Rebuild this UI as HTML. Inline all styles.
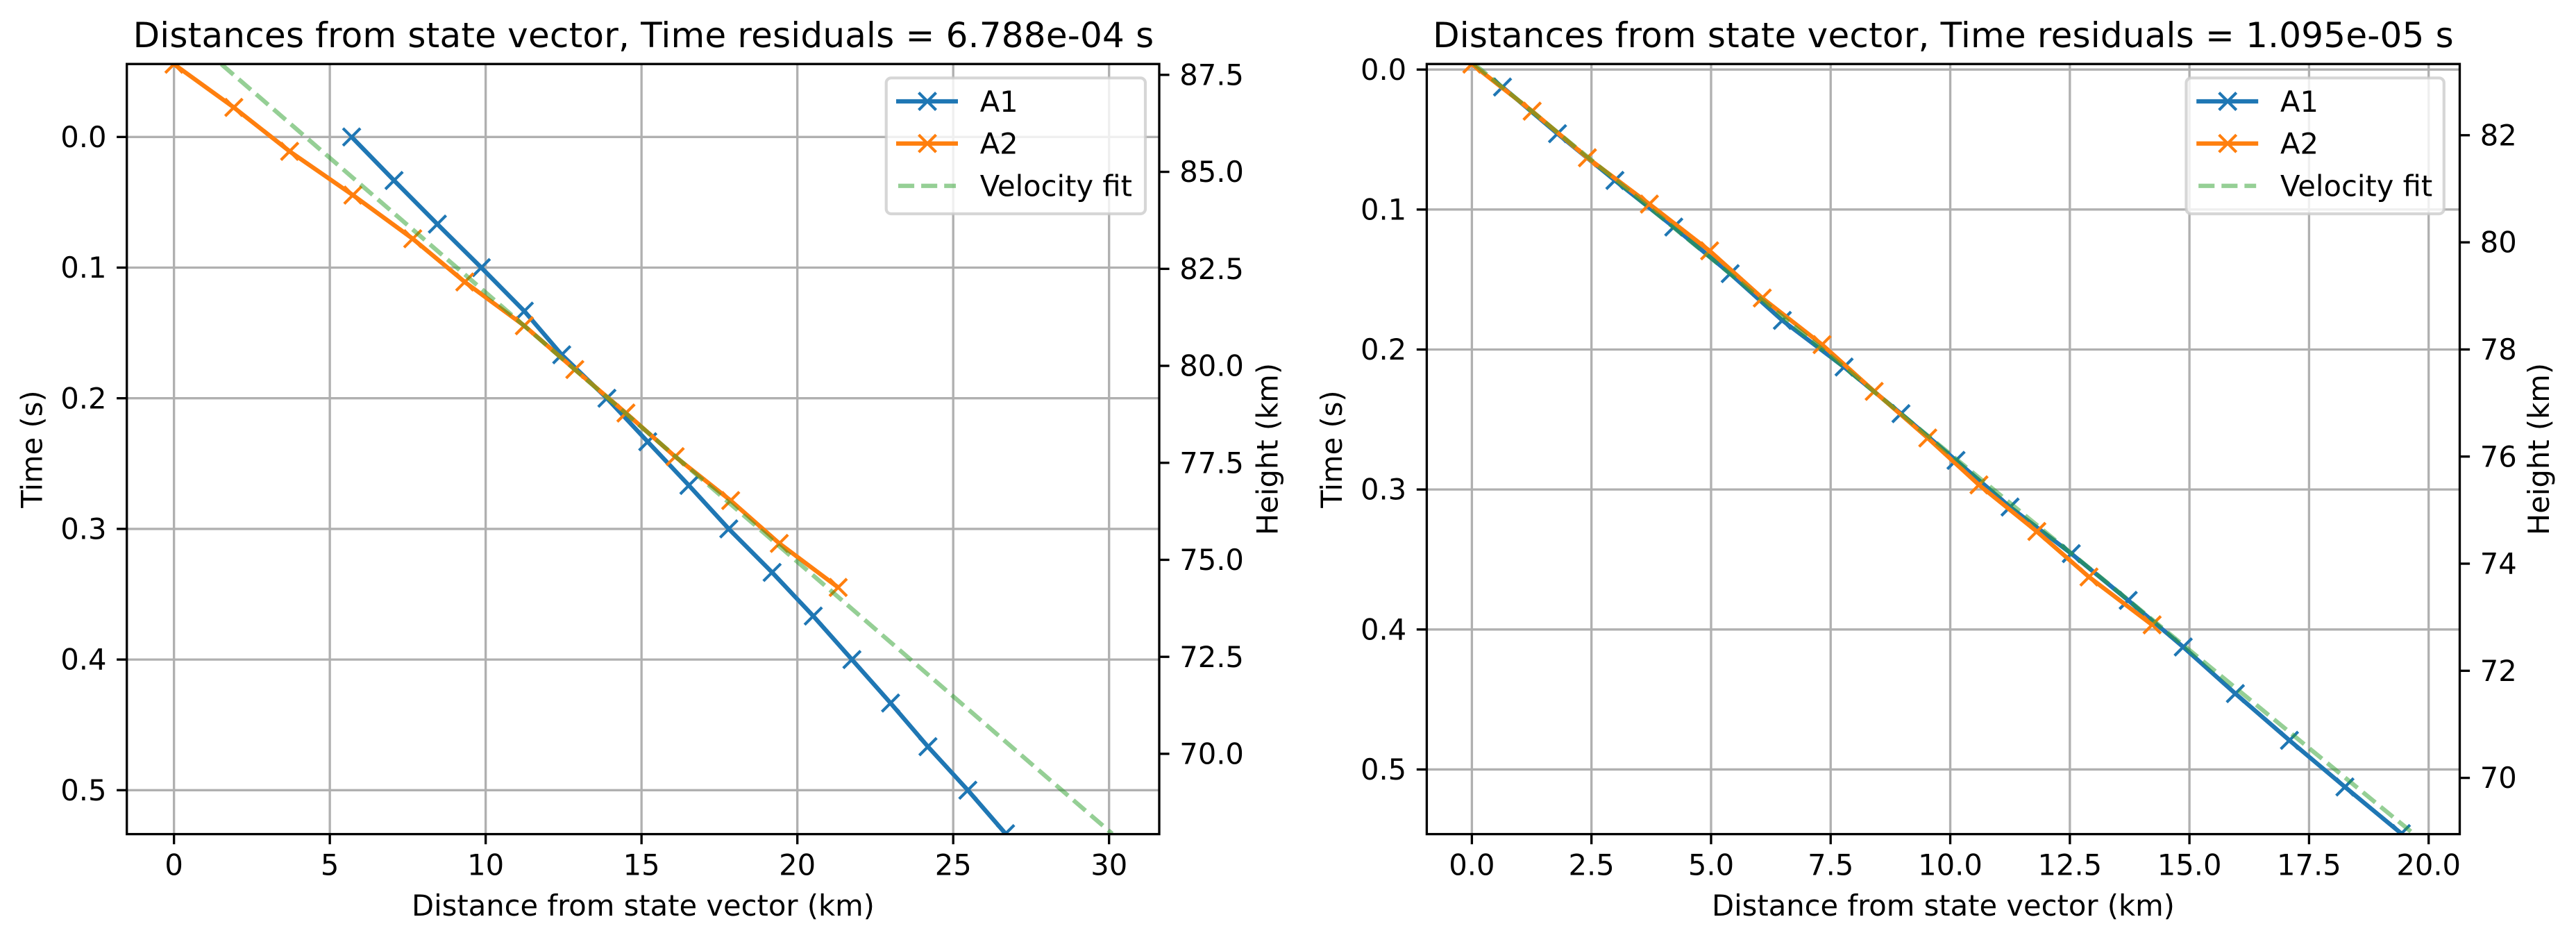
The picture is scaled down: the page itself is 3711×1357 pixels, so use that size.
<!DOCTYPE html>
<html lang="en">
<head>
<meta charset="utf-8">
<title>Distances from state vector</title>
<style>
html,body{margin:0;padding:0;background:#fff;width:3711px;height:1357px;overflow:hidden}
svg{display:block}
text{font-family:"DejaVu Sans","Liberation Sans",sans-serif;fill:#000}
.tick{font-size:41.67px}
.axlab{font-size:41.67px}
.ttl{font-size:50px;letter-spacing:0.2px;text-anchor:middle}
</style>
</head>
<body>
<svg id="fig" xmlns="http://www.w3.org/2000/svg" width="3711" height="1357" viewBox="0 0 3711 1357">
  <defs>
    <clipPath id="clip-left"><rect x="182.7" y="92.2" width="1487.3" height="1109.4"/></clipPath>
    <clipPath id="clip-right"><rect x="2055.4" y="92.2" width="1488.1" height="1109.4"/></clipPath>
  </defs>
  <g id="panel-left"></g>
  <g id="panel-right"></g>
  <text class="ttl" x="927" y="68">Distances from state vector, Time residuals = 6.788e-04 s</text>
  <text class="axlab" x="926.5" y="1319" text-anchor="middle">Distance from state vector (km)</text>
  <text class="axlab" transform="translate(60.6 647) rotate(-90)" text-anchor="middle">Time (s)</text>
  <text class="axlab" transform="translate(1840.7 647) rotate(-90)" text-anchor="middle">Height (km)</text>
  <text class="ttl" x="2799.5" y="68">Distances from state vector, Time residuals = 1.095e-05 s</text>
  <text class="axlab" x="2799.5" y="1319" text-anchor="middle">Distance from state vector (km)</text>
  <text class="axlab" transform="translate(1932.9 647) rotate(-90)" text-anchor="middle">Time (s)</text>
  <text class="axlab" transform="translate(3672 647) rotate(-90)" text-anchor="middle">Height (km)</text>
</svg>
<script>
// ---- Left panel data ----
const leftA1Dist = [5.70,7.06,8.45,9.86,11.24,12.44,13.89,15.20,16.52,17.80,19.19,20.51,21.75,22.99,24.19,25.47,26.68];
const leftA1Time = [0,0.0333,0.0667,0.1,0.1333,0.1667,0.2,0.2333,0.2667,0.3,0.3333,0.3667,0.4,0.4333,0.4667,0.5,0.5333];
const leftA2Dist = [0,1.92,3.71,5.74,7.66,9.33,11.24,12.86,14.50,16.08,17.86,19.42,21.31];
const leftA2Time = [-0.0557,-0.0226,0.011,0.0445,0.0779,0.111,0.1445,0.178,0.2113,0.2447,0.2783,0.3111,0.3448];
const leftFitDist = [1.52,30.1];
const leftFitTime = [-0.0557,0.5333];
const leftDistTicks = ['0','5','10','15','20','25','30'];
const leftTimeTicks = ['0.0','0.1','0.2','0.3','0.4','0.5'];
const leftHeightTicks = ['70.0','72.5','75.0','77.5','80.0','82.5','85.0','87.5'];
// ---- Right panel data ----
const rightA1Dist = [0.64,1.79,2.99,4.22,5.40,6.49,7.78,8.97,10.12,11.25,12.53,13.72,14.87,15.96,17.09,18.25,19.43];
const rightA1Time = [0.0125,0.0458,0.0792,0.1125,0.1458,0.1792,0.2125,0.2458,0.2792,0.3125,0.3458,0.3792,0.4125,0.4458,0.4792,0.5125,0.5458];
const rightA2Dist = [0,1.26,2.415,3.71,4.97,6.07,7.32,8.41,9.53,10.60,11.81,12.90,14.22];
const rightA2Time = [-0.0039,0.0297,0.063,0.0961,0.1295,0.1632,0.1965,0.2299,0.2632,0.2967,0.33,0.3625,0.3967];
const rightFitDist = [0.05,19.68];
const rightFitTime = [-0.0039,0.5458];
const rightDistTicks = ['0.0','2.5','5.0','7.5','10.0','12.5','15.0','17.5','20.0'];
const rightTimeTicks = ['0.0','0.1','0.2','0.3','0.4','0.5'];
const rightHeightTicks = ['70','72','74','76','78','80','82'];
const legendLabels = ['A1','A2','Velocity fit'];

const NS = 'http://www.w3.org/2000/svg';
const BLUE = '#1f77b4', ORANGE = '#ff7f0e', GREEN = '#2ca02c', GRID = '#b0b0b0';
const THIN = 3.33, THICK = 6.25, MEW = 4.17, MARK = 12.5, TICKLEN = 14.6, LABELGAP = 29.2, DASH = '23.1 10';

function mk(tag, parent, props) {
  const el = document.createElementNS(NS, tag);
  for (const k in props) el.setAttribute(k, props[k]);
  parent.appendChild(el);
  return el;
}
function linear(d0, d1, r0, r1) {
  return v => r0 + (v - d0) / (d1 - d0) * (r1 - r0);
}
function drawSeries(g, clip, pts, color, name, sx, sy) {
  const path = mk('polyline', g, {points: pts[0].map((d, i) => sx(d) + ',' + sy(pts[1][i])).join(' '), fill: 'none', stroke: color, 'stroke-width': THICK, 'stroke-linejoin': 'round', 'clip-path': clip});
  
  
  pts[0].forEach((d, i) => {
    const cx = sx(d), cy = sy(pts[1][i]), r = MARK;
    const m = mk('path', g, {d: `M${cx-r} ${cy-r}L${cx+r} ${cy+r}M${cx-r} ${cy+r}L${cx+r} ${cy-r}`, fill: 'none', stroke: color, 'stroke-width': MEW, 'clip-path': clip});
    
    
  });
}
function drawPanel(g, P) {
  const sx = linear(P.xDom[0], P.xDom[1], P.left, P.right);
  const sy = linear(P.tDom[0], P.tDom[1], P.top, P.bottom);
  const sh = linear(P.hDom[0], P.hDom[1], P.top, P.bottom);
  const clip = 'url(#' + P.clip + ')';
  // grid
  P.xTicks.forEach(t => {
    const x = sx(parseFloat(t));
    const l = mk('line', g, {x1: x, x2: x, y1: P.top, y2: P.bottom, stroke: GRID, 'stroke-width': THIN});
    
    
  });
  P.tTicks.forEach(t => {
    const y = sy(parseFloat(t));
    const l = mk('line', g, {x1: P.left, x2: P.right, y1: y, y2: y, stroke: GRID, 'stroke-width': THIN});
    
    
  });
  // series
  drawSeries(g, clip, P.a1, BLUE, 'a1', sx, sy);
  drawSeries(g, clip, P.a2, ORANGE, 'a2', sx, sy);
  const fit = mk('polyline', g, {points: P.fit[0].map((d, i) => sx(d) + ',' + sy(P.fit[1][i])).join(' '), fill: 'none', stroke: GREEN, 'stroke-opacity': 0.5, 'stroke-width': THICK, 'stroke-dasharray': DASH, 'clip-path': clip});
  
  
  // spines
  const frame = mk('rect', g, {x: P.left, y: P.top, width: P.right - P.left, height: P.bottom - P.top, fill: 'none', stroke: '#000', 'stroke-width': THIN});
  
  
  // x ticks
  P.xTicks.forEach(t => {
    const x = sx(parseFloat(t));
    const l = mk('line', g, {x1: x, x2: x, y1: P.bottom, y2: P.bottom + TICKLEN, stroke: '#000', 'stroke-width': THIN});
    
    
    const e = mk('text', g, {x: x, y: 1260.7, 'text-anchor': 'middle', class: 'tick'});
    
    
    e.textContent = t;
  });
  // time ticks
  P.tTicks.forEach(t => {
    const y = sy(parseFloat(t));
    const l = mk('line', g, {x1: P.left - TICKLEN, x2: P.left, y1: y, y2: y, stroke: '#000', 'stroke-width': THIN});
    
    
    const e = mk('text', g, {x: P.left - LABELGAP, y: y + 14.6, 'text-anchor': 'end', class: 'tick'});
    
    
    e.textContent = t;
  });
  // height ticks
  P.hTicks.forEach(t => {
    const y = sh(parseFloat(t));
    const l = mk('line', g, {x1: P.right, x2: P.right + TICKLEN, y1: y, y2: y, stroke: '#000', 'stroke-width': THIN});
    
    
    const e = mk('text', g, {x: P.right + LABELGAP, y: y + 14.6, 'text-anchor': 'start', class: 'tick'});
    
    
    e.textContent = t;
  });
  // legend
  const L = P.legend;
  const lg = mk('g', g, {});
  
  
  const box = mk('rect', lg, {x: L.x0, y: 112.3, width: L.x1 - L.x0, height: 195.7, rx: 7, ry: 7, fill: '#fff', 'fill-opacity': 0.8, stroke: '#ccc', 'stroke-opacity': 0.8, 'stroke-width': MEW});
  
  
  const rows = [146, 206.7, 267.7], cols = [BLUE, ORANGE, GREEN];
  legendLabels.forEach((lab, i) => {
    const props = {x1: L.h0, x2: L.h0 + 89, y1: rows[i], y2: rows[i], stroke: cols[i], 'stroke-width': THICK};
    if (i === 2) { props['stroke-opacity'] = 0.5; props['stroke-dasharray'] = DASH; props.x1 = L.h0 + 3; props.x2 = L.h0 + 86; }
    const h = mk('line', lg, props);
    
    
    if (i < 2) {
      const cx = L.h0 + 45, cy = rows[i], r = MARK;
      const m = mk('path', lg, {d: `M${cx-r} ${cy-r}L${cx+r} ${cy+r}M${cx-r} ${cy+r}L${cx+r} ${cy-r}`, fill: 'none', stroke: cols[i], 'stroke-width': MEW});
      
      
    }
    const e = mk('text', lg, {x: L.text, y: rows[i] + 15, class: 'tick'});
    
    
    e.textContent = lab;
  });
}
drawPanel(document.getElementById('panel-left'), {
  left: 182.7, right: 1670, top: 92.2, bottom: 1201.6, clip: 'clip-left',
  xDom: [-1.513, 31.61], tDom: [-0.05585, 0.53363], hDom: [87.78, 67.93],
  a1: [leftA1Dist, leftA1Time], a2: [leftA2Dist, leftA2Time], fit: [leftFitDist, leftFitTime],
  xTicks: leftDistTicks, tTicks: leftTimeTicks, hTicks: leftHeightTicks,
  legend: {x0: 1276.7, x1: 1650, h0: 1291, text: 1411.7}
});
drawPanel(document.getElementById('panel-right'), {
  left: 2055.4, right: 3543.5, top: 92.2, bottom: 1201.6, clip: 'clip-right',
  xDom: [-0.943, 20.65], tDom: [-0.00397, 0.5462], hDom: [83.33, 68.95],
  a1: [rightA1Dist, rightA1Time], a2: [rightA2Dist, rightA2Time], fit: [rightFitDist, rightFitTime],
  xTicks: rightDistTicks, tTicks: rightTimeTicks, hTicks: rightHeightTicks,
  legend: {x0: 3149.5, x1: 3520.8, h0: 3164.2, text: 3285}
});
</script>
</body>
</html>
